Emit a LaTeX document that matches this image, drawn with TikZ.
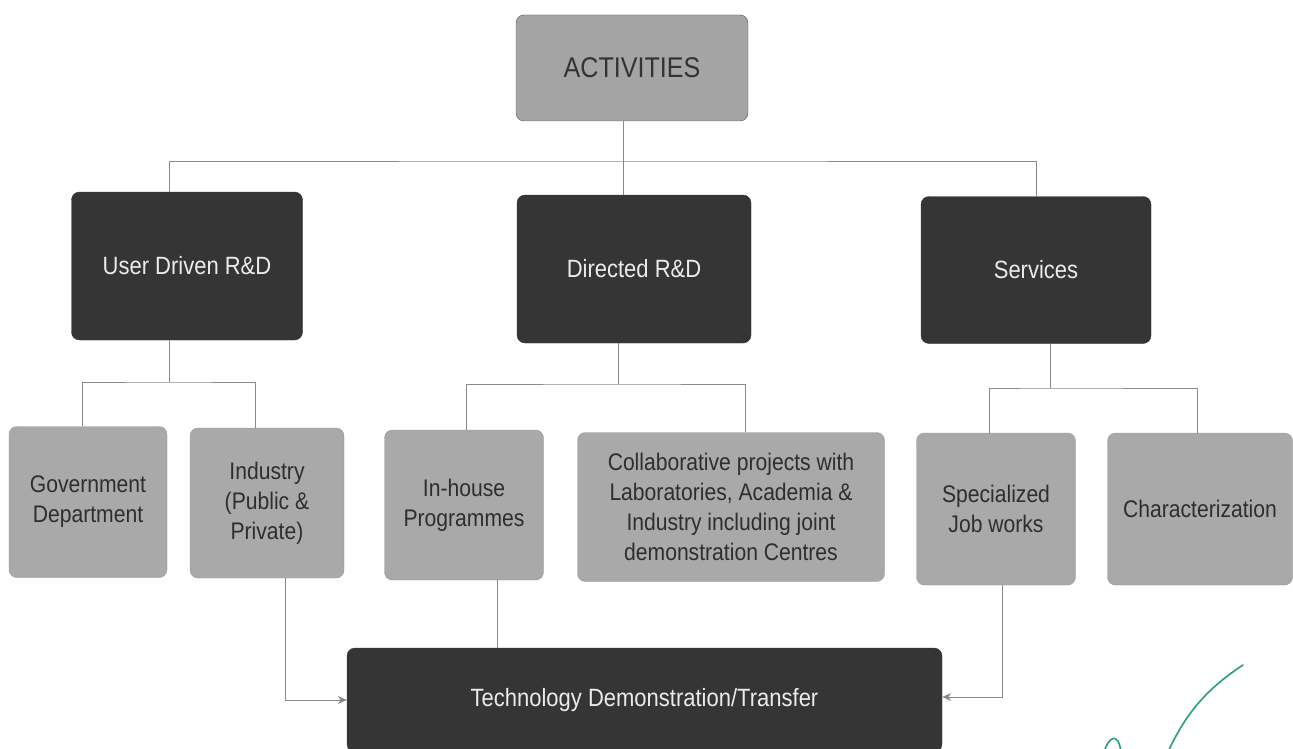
\documentclass[tikz,border=0pt]{standalone}
\usepackage{fontspec}
\setmainfont{Liberation Sans}[FakeStretch=0.88]
\usetikzlibrary{arrows.meta}

\definecolor{darkfill}{HTML}{353535}
\definecolor{lightfill}{HTML}{A9A9A9}
\definecolor{topfill}{HTML}{A4A4A4}
\definecolor{linegrey}{HTML}{8A8A8A}
\definecolor{inkgreen}{HTML}{2A9D7A}

\begin{document}
\begin{tikzpicture}[
            x=1pt, y=-1pt,
            base/.style={rounded corners=8pt, inner sep=0pt, align=center, draw=#1},
            topbox/.style={base=gray!70!black, fill=topfill, text=black!80,
                font=\fontsize{28.5}{33}\selectfont},
            darkbox/.style={base=darkfill, fill=darkfill, text=white!92!black,
                font=\fontsize{25}{30}\selectfont},
            lightbox/.style={base=lightfill!90!black, fill=lightfill, text=black!82,
                font=\fontsize{24}{30}\selectfont},
            link/.style={draw=linegrey, line width=0.9pt},
            >={Stealth[length=9pt,width=8pt]}
        ]
        \fill[white] (0,0) rectangle (1293,749);
        \clip (0,0) rectangle (1293,749);

        % top level
        \node[topbox, minimum width=232, minimum height=106] (act) at (632,68) {ACTIVITIES};

        % second level
        \node[darkbox, minimum width=231, minimum height=148] (usr) at (187,266) {User Driven R\&D};
        \node[darkbox, minimum width=234, minimum height=148] (dir) at (634,269) {Directed R\&D};
        \node[darkbox, minimum width=230, minimum height=147] (srv) at (1036,270) {Services};

        % third level
        \node[lightbox, minimum width=158, minimum height=151] (gov) at (88,502) {Government\\Department};
        \node[lightbox, minimum width=154, minimum height=150] (ind) at (267,503) {Industry\\(Public \&\\Private)};
        \node[lightbox, minimum width=159, minimum height=150] (inh) at (464,505) {In-house\\Programmes};
        \node[lightbox, minimum width=307, minimum height=149] (col) at (731,507)
            {Collaborative projects with\\Laboratories, Academia \&\\Industry including joint\\demonstration Centres};
        \node[lightbox, minimum width=159, minimum height=152] (spc) at (996,509) {Specialized\\Job works};
        \node[lightbox, minimum width=185, minimum height=152] (chr) at (1200,509) {Characterization};

        % bottom
        \node[darkbox, minimum width=595, minimum height=104] (tech) at (644.5,700) {Technology Demonstration/Transfer};

        % branch points
        \coordinate (bus) at (623,161);
        \coordinate (usrsplit) at (169,382);
        \coordinate (dirsplit) at (618,384);
        \coordinate (srvsplit) at (1050,388);

        \draw[link] ([xshift=-9]act.south) -- ([xshift=-9]act.south |- dir.north);
        \draw[link] ([xshift=-18]usr.north) |- (bus) -| (srv.north);

        \draw[link] ([xshift=-18]usr.south) -- (usrsplit);
        \draw[link] ([xshift=-6]gov.north) |- (usrsplit) -| ([xshift=-12]ind.north);
        \draw[link] ([xshift=-16]dir.south) -- (dirsplit);
        \draw[link] ([xshift=2]inh.north) |- (dirsplit) -| ([xshift=14]col.north);
        \draw[link] ([xshift=14]srv.south) -- (srvsplit);
        \draw[link] ([xshift=-7]spc.north) |- (srvsplit) -| ([xshift=-3]chr.north);

        \draw[link, ->] ([xshift=18]ind.south) |- (tech.west);
        \draw[link] ([xshift=33]inh.south) -- ([xshift=33]inh.south |- tech.north);
        \draw[link, ->] ([xshift=6]spc.south) |- ([yshift=3]tech.east);

        % pen mark
        \draw[inkgreen, line width=1.6pt, line cap=round]
            (1243,665) .. controls (1205,690) and (1185,715) .. (1168,752);
        \draw[inkgreen, line width=1.6pt, line cap=round]
            (1104,752) .. controls (1108,738) and (1118,730) .. (1121,752);
    \end{tikzpicture}
\end{document}
